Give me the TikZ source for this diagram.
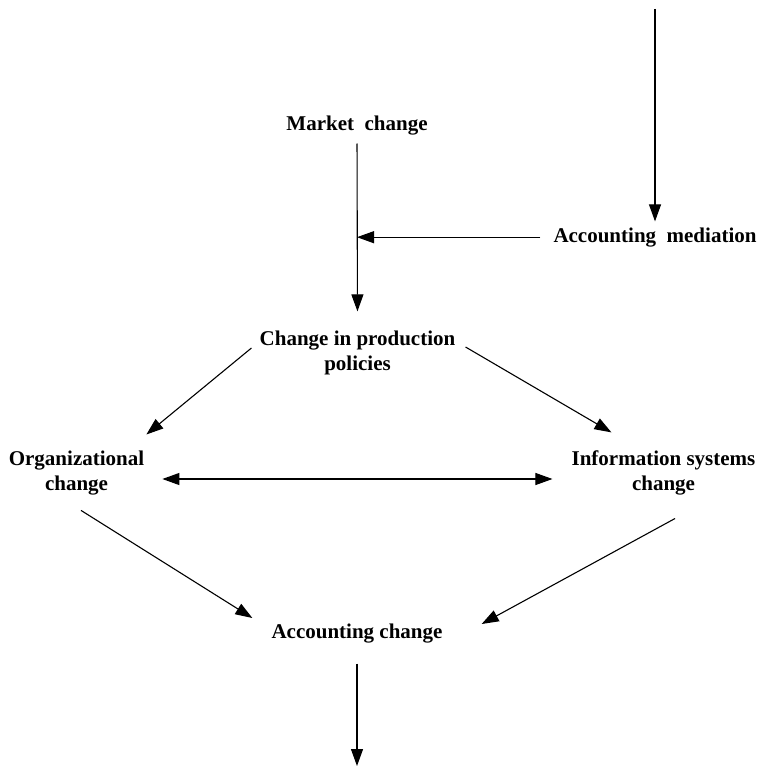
\documentclass[tikz,border=0pt]{standalone}
\usepackage{fontspec}
\setmainfont{Liberation Serif}
\usetikzlibrary{arrows.meta}
\begin{document}
\begin{tikzpicture}[x=1pt,y=-1pt,
  label/.style={inner sep=0pt, align=center, font=\bfseries\fontsize{21}{25}\selectfont},
  link/.style={line width=1.1pt, -{Triangle[length=17pt,width=12pt]}},
  twoway/.style={line width=1.1pt, {Triangle[length=17pt,width=12pt]}-{Triangle[length=17pt,width=12pt]}}]
  \useasboundingbox (0,0) rectangle (759,767);

  % nodes of the flow
  \node[label] (mc) at (357,125.2) {Market\hspace{0.5em}change};
  \node[label] (am) at (655,237.2) {Accounting\hspace{0.5em}mediation};
  \node[label] (cp) at (357.5,352.6) {Change in production\\policies};
  \node[label] (oc) at (76.5,472.6) {Organizational\\change};
  \node[label] (is) at (663.5,472.6) {Information systems\\change};
  \node[label] (ac) at (357,633.2) {Accounting change};

  % free ends
  \coordinate (topin) at (655,9);
  \coordinate (botout) at (357,766);

  % connectors
  \draw[link, shorten >=6pt] (topin) -- (am.north);
  \draw[link, shorten <=13pt] (am.west) -- (am.west -| mc.south);
  \draw[link, shorten <=8.5pt, shorten >=19pt] (mc.south) -- (cp.north);
  \draw[link] ([shift={(-8pt,4.6pt)}]cp.west) -- ([shift={(2pt,15.8pt)}]oc.north east);
  \draw[link] ([shift={(10pt,5.6pt)}]cp.east) -- ([shift={(40pt,17.8pt)}]is.north west);
  \draw[twoway] ([shift={(18pt,-6.4pt)}]oc.east) -- ([shift={(-19pt,-6.4pt)}]is.west);
  \draw[link] ([shift={(4.5pt,-15.5pt)}]oc.south) -- ([shift={(-19pt,15.2pt)}]ac.west);
  \draw[link] ([shift={(11.5pt,-23.5pt)}]is.south) -- ([shift={(39pt,9.2pt)}]ac.east);
  \draw[link, shorten <=20.5pt] (ac.south) -- (botout);
\end{tikzpicture}
\end{document}
